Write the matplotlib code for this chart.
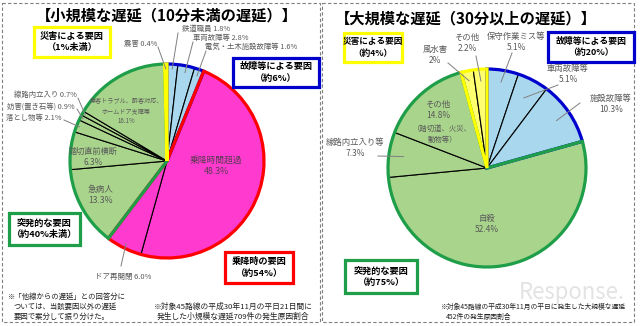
import matplotlib
matplotlib.use('Agg')
import matplotlib.pyplot as plt
from matplotlib.patches import Wedge, Rectangle
import numpy as np

plt.rcParams['font.family'] = ['Noto Sans CJK JP', 'DejaVu Sans']

W, H = 640, 326

# small delays (< 10 min), clockwise from 12 o'clock
small_labels = ['鉄道職員', '車両故障等', '電気・土木施設故障等', '乗降時間超過', 'ドア再開閉',
                '急病人', '踏切直前横断', '落とし物等', '妨害(置き石等)', '線路内立入り',
                '乗客トラブル、酔客対応、\nホームドア支障等', '震害']
small_values = [1.8, 2.8, 1.6, 48.3, 6.0, 13.3, 6.3, 2.1, 0.9, 0.7, 16.1, 0.4]
small_groups = ['fault', 'fault', 'fault', 'board', 'board',
                'sudden', 'sudden', 'sudden', 'sudden', 'sudden', 'sudden', 'disaster']

# large delays (>= 30 min)
large_labels = ['保守作業ミス等', '車両故障等', '施設故障等', '自殺', '線路内立入り等',
                'その他', '風水害', 'その他']
large_values = [5.1, 5.1, 10.3, 52.4, 7.3, 14.8, 2.0, 2.2]
large_groups = ['fault', 'fault', 'fault', 'sudden', 'sudden', 'sudden', 'disaster', 'disaster']

fill = {'fault': '#A9D8EE', 'board': '#FF3ACF', 'sudden': '#A9D48C', 'disaster': '#FFFF70'}
edge = {'fault': '#0000CC', 'board': '#FF0000', 'sudden': '#1E9E48', 'disaster': '#FFFF00'}
label_c = '#595959'

fig = plt.figure(figsize=(W / 100, H / 100), dpi=100)
ax = fig.add_axes([0, 0, 1, 1])


def bounds(values):
    v = np.asarray(values, float)
    c = np.concatenate([[0], np.cumsum(v)]) / v.sum()
    return c[:-1], c[1:]


def pt(cx, cy, r, f):
    # y axis is inverted: angle -90 is 12 o'clock, increasing goes clockwise on screen
    a = np.deg2rad(-90 + 360 * f)
    return cx + r * np.cos(a), cy + r * np.sin(a)


def draw_pie(values, groups, cx, cy, r):
    ax.pie(values, center=(cx, cy), radius=r, startangle=-90, counterclock=True,
           colors=[fill[g] for g in groups],
           wedgeprops=dict(edgecolor='black', linewidth=0.8))
    lo, hi = bounds(values)
    seen = []
    for g in groups:
        if g not in seen:
            seen.append(g)
    for g in seen:
        idx = [i for i, gg in enumerate(groups) if gg == g]
        a1 = -90 + 360 * lo[idx[0]]
        a2 = -90 + 360 * hi[idx[-1]]
        ax.add_patch(Wedge((cx, cy), r, a1, a2, fill=False, edgecolor=edge[g],
                           lw=2.3, zorder=3, joinstyle='miter'))
    return lo, hi


def leader(cx, cy, r, lo, hi, i, start, rf=0.92):
    x, y = pt(cx, cy, r * rf, (lo[i] + hi[i]) / 2)
    ax.plot([start[0], x], [start[1], y], color='#7f7f7f', lw=0.7, zorder=4)


def box(x0, y0, x1, y1, g, lines, size=6.6):
    ax.add_patch(Rectangle((x0, y0), x1 - x0, y1 - y0, fill=True, facecolor='white',
                           edgecolor=edge[g], lw=2.3, zorder=5))
    ax.text((x0 + x1) / 2, (y0 + y1) / 2, lines, ha='center', va='center', fontsize=size,
            fontweight='bold', linespacing=1.35, zorder=6)


def txt(x, y, s, size=5.6, color=label_c, ha='center', z=6, **kw):
    ax.text(x, y, s, ha=ha, va='center', fontsize=size, color=color, zorder=z, **kw)


# panel borders
ax.add_patch(Rectangle((2, 3), 318, 319, fill=False, ls=(0, (3, 2)), ec='#7f7f7f', lw=0.8))
ax.add_patch(Rectangle((322, 3), 312, 319, fill=False, ls=(0, (3, 2)), ec='#7f7f7f', lw=0.8))

# ---------------- left: small delays ----------------
lcx, lcy, lr = 167, 161, 97
lo, hi = draw_pie(small_values, small_groups, lcx, lcy, lr)

txt(167, 15, '【小規模な遅延（10分未満の遅延）】', size=11, color='black', fontweight='bold')

txt(182, 29, f'{small_labels[0]} {small_values[0]}%', size=5.3, ha='left')
txt(193, 38, f'{small_labels[1]} {small_values[1]}%', size=5.3, ha='left')
txt(205, 47, f'{small_labels[2]} {small_values[2]}%', size=5.3, ha='left')
txt(157, 44, f'{small_labels[11]} {small_values[11]}%', size=5.3, ha='right')
leader(lcx, lcy, lr, lo, hi, 0, (178, 33), 0.95)
leader(lcx, lcy, lr, lo, hi, 1, (193, 42), 0.93)
leader(lcx, lcy, lr, lo, hi, 2, (206, 51), 0.93)
leader(lcx, lcy, lr, lo, hi, 11, (158, 47), 0.95)

txt(77, 95, f'{small_labels[9]} {small_values[9]}%', size=5.3, ha='right')
txt(75, 107, f'{small_labels[8]} {small_values[8]}%', size=5.3, ha='right')
txt(62, 118, f'{small_labels[7]} {small_values[7]}%', size=5.3, ha='right')
leader(lcx, lcy, lr, lo, hi, 9, (78, 98), 0.97)
leader(lcx, lcy, lr, lo, hi, 8, (77, 109), 0.97)
leader(lcx, lcy, lr, lo, hi, 7, (64, 120), 0.97)

txt(126, 111, f'{small_labels[10]}\n{small_values[10]}%', size=4.4, linespacing=1.4)
txt(93, 157, f'{small_labels[6]}\n{small_values[6]}%', size=5.9, linespacing=1.3)
txt(101, 195, f'{small_labels[5]}\n{small_values[5]}%', size=6.2, linespacing=1.3)
txt(216, 166, f'{small_labels[3]}\n{small_values[3]}%', size=6.3, linespacing=1.3, color='#5a3a55')

txt(95, 277, f'{small_labels[4]} {small_values[4]}%', size=5.4, ha='left')
leader(lcx, lcy, lr, lo, hi, 4, (121, 266), 0.95)

box(34, 27, 110, 57, 'disaster', '災害による要因\n（1%未満）')
box(233, 58, 319, 87, 'fault', '故障等による要因\n（約6%）')
box(9, 213, 80, 245, 'sudden', '突発的な要因\n（約40%未満）')
box(225, 252, 293, 283, 'board', '乗降時の要因\n（約54%）')

txt(8, 297, '※「他線からの遅延」との回答分に', size=5.3, color='#222222', ha='left')
txt(14, 307, 'ついては、当該要因以外の遅延', size=5.3, color='#222222', ha='left')
txt(14, 317, '要因で案分して振り分けた。', size=5.3, color='#222222', ha='left')
txt(233, 307, '※対象45路線の平成30年11月の平日21日間に', size=5.6, color='#222222')
txt(233, 317, '発生した小規模な遅延709件の発生原因割合', size=5.6, color='#222222')

# ---------------- right: large delays ----------------
rcx, rcy, rr = 487, 168, 99
lo, hi = draw_pie(large_values, large_groups, rcx, rcy, rr)

txt(466, 18, '【大規模な遅延（30分以上の遅延）】', size=11, color='black', fontweight='bold')

txt(516, 42, f'{large_labels[0]}\n{large_values[0]}%', size=6.0, linespacing=1.3)
txt(467, 43, f'{large_labels[7]}\n{large_values[7]}%', size=6.0, linespacing=1.3)
txt(435, 55, f'{large_labels[6]}\n{large_values[6]:g}%', size=6.0, linespacing=1.3)
txt(568, 74, f'{large_labels[1]}\n{large_values[1]}%', size=6.0, linespacing=1.3)
txt(611, 104, f'{large_labels[2]}\n{large_values[2]}%', size=6.0, linespacing=1.3)
leader(rcx, rcy, rr, lo, hi, 0, (512, 53), 0.88)
leader(rcx, rcy, rr, lo, hi, 7, (476, 56), 0.88)
leader(rcx, rcy, rr, lo, hi, 6, (448, 63), 0.9)
leader(rcx, rcy, rr, lo, hi, 1, (558, 85), 0.8)
leader(rcx, rcy, rr, lo, hi, 2, (580, 103), 0.85)

txt(438, 110, f'{large_labels[5]}\n{large_values[5]}%', size=6.0, linespacing=1.3)
txt(442, 134, '（踏切道、火災、\n動物等）', size=5.3, linespacing=1.5)
txt(355, 148, f'{large_labels[4]}\n{large_values[4]}%', size=6.0, linespacing=1.3)
leader(rcx, rcy, rr, lo, hi, 4, (378, 156), 0.85)
txt(487, 224, f'{large_labels[3]}\n{large_values[3]}%', size=6.0, linespacing=1.3)

box(344, 33, 402, 62, 'disaster', '災害による要因\n（約4%）', size=6.2)
box(548, 32, 634, 62, 'fault', '故障等による要因\n（約20%）', size=6.4)
box(345, 260, 417, 293, 'sudden', '突発的な要因\n（約75%）')

txt(572, 293, 'Response.', size=16, color='#e3e3e3', fontstyle='italic', z=1)
txt(440, 307, '※対象45路線の平成30年11月の平日に発生した大規模な遅延', size=4.9,
    color='#222222', ha='left')
txt(446, 317, '452件の発生原因割合', size=4.9, color='#222222', ha='left')

ax.set_xlim(0, W)
ax.set_ylim(H, 0)
ax.set_aspect('auto')
ax.axis('off')

fig.savefig('out.png', dpi=100, facecolor='white')
